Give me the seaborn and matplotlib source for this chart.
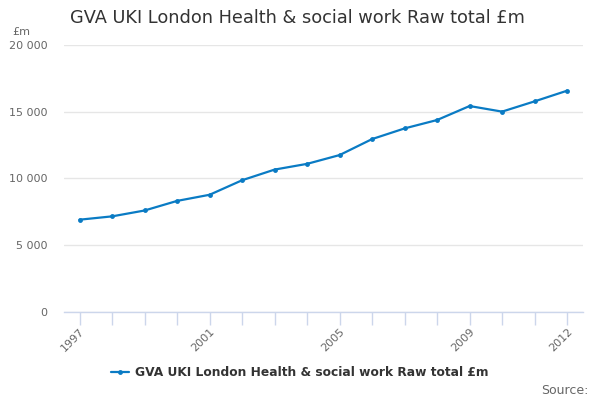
import pandas as pd
import seaborn as sns
import matplotlib
matplotlib.use('Agg')
import matplotlib.pyplot as plt
from matplotlib.ticker import FuncFormatter

# Data
years = [1997, 1998, 1999, 2000, 2001, 2002, 2003, 2004,
         2005, 2006, 2007, 2008, 2009, 2010, 2011, 2012]
values = [6890, 7140, 7580, 8300, 8760, 9850, 10650, 11080,
          11740, 12940, 13740, 14370, 15420, 15000, 15770, 16570]
label_years = [1997, 2001, 2005, 2009, 2012]
series_name = 'GVA UKI London Health & social work Raw total £m'

df = pd.DataFrame({'year': years, 'value': values})
df['pos'] = range(len(df))

sns.set_style('white')
plt.rcParams['font.family'] = ['DejaVu Sans']

fig = plt.figure(figsize=(6, 4), dpi=100)
ax = fig.add_axes([64 / 600, 88.5 / 400, 519 / 600, 266.5 / 400])

sns.lineplot(data=df, x='pos', y='value', ax=ax, color='#0a7bc4', linewidth=1.6,
             marker='o', markersize=3.5, markeredgewidth=0, label=series_name,
             legend=False)

ax.set_xlim(-0.48, len(years) - 1 + 0.49)
ax.set_ylim(0, 20000)
ax.set_yticks([0, 5000, 10000, 15000, 20000])
ax.yaxis.set_major_formatter(FuncFormatter(lambda v, p: f'{int(v):,}'.replace(',', ' ')))
ax.grid(axis='y', color='#e6e6e6', linewidth=1)
ax.set_axisbelow(True)

ax.set_xticks(df['pos'])
ax.set_xticklabels([str(y) if y in label_years else '' for y in years],
                   rotation=45, ha='right', rotation_mode='anchor')
ax.tick_params(axis='x', length=9, width=1, color='#ccd6eb', labelsize=8,
               labelcolor='#666666', pad=2, bottom=True)
ax.tick_params(axis='y', length=0, labelsize=8, labelcolor='#666666', pad=12)

for s in ['top', 'right', 'left']:
    ax.spines[s].set_visible(False)
ax.spines['bottom'].set_color('#ccd6eb')
ax.spines['bottom'].set_linewidth(1)

ax.set_xlabel('')
ax.set_ylabel('')

fig.text(70 / 600, 1 - 18 / 400, series_name, fontsize=12.8, color='#333333',
         va='center', ha='left')
fig.text(12 / 600, 1 - 32 / 400, '£m', fontsize=8, color='#666666',
         va='center', ha='left')

handle = ax.get_lines()[0]
fig.legend([handle], [series_name], loc='center', bbox_to_anchor=(300 / 600, 1 - 373 / 400),
           frameon=False, prop={'weight': 'bold', 'size': 8.8}, labelcolor='#333333',
           handlelength=1.5, handletextpad=0.5)
fig.text(589 / 600, 1 - 390 / 400, 'Source:', fontsize=9, color='#666666',
         va='center', ha='right')

fig.savefig('out.png', dpi=100)
